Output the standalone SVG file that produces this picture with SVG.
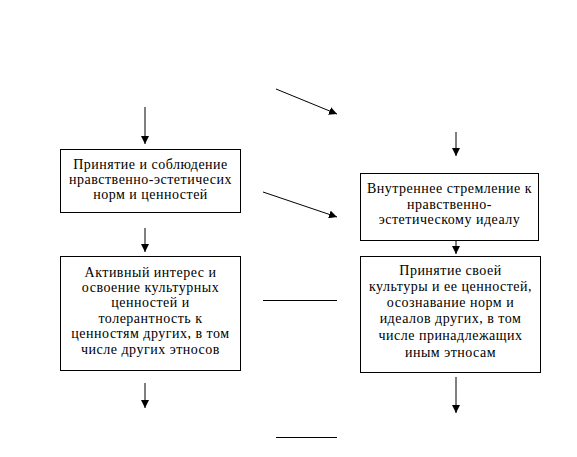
<svg xmlns="http://www.w3.org/2000/svg" width="577" height="457" viewBox="0 0 577 457">
<style>
.box{fill:#fff;stroke:#000;stroke-width:1}
.t{font-family:'Liberation Serif','Times New Roman',serif;font-size:14px;letter-spacing:0.5px;fill:#000;text-anchor:middle}
.ln{stroke:#000;stroke-width:1;fill:none}
</style>
<defs>
<marker id="ah" markerWidth="8" markerHeight="8" refX="8" refY="4" orient="auto" markerUnits="userSpaceOnUse">
<path d="M0,0 L8,4 L0,8 Z" fill="#000"/>
</marker>
</defs>
<rect width="577" height="457" fill="#fff"/>
<g id="connectors">
<line class="ln" x1="145" y1="107" x2="145" y2="144" marker-end="url(#ah)"/>
<line class="ln" x1="276" y1="89" x2="337" y2="114" marker-end="url(#ah)"/>
<line class="ln" x1="263" y1="192" x2="337" y2="217" marker-end="url(#ah)"/>
<line class="ln" x1="456" y1="132" x2="456" y2="156" marker-end="url(#ah)"/>
<line class="ln" x1="456" y1="241" x2="456" y2="254" marker-end="url(#ah)"/>
<line class="ln" x1="145" y1="228" x2="145" y2="252" marker-end="url(#ah)"/>
<line class="ln" x1="145" y1="383" x2="145" y2="408" marker-end="url(#ah)"/>
<line class="ln" x1="456" y1="377" x2="456" y2="413" marker-end="url(#ah)"/>
<line class="ln" x1="263" y1="300.5" x2="337" y2="300.5"/>
<line class="ln" x1="276" y1="437.5" x2="337" y2="437.5"/>
</g>
<g id="node1">
<rect class="box" x="60.5" y="149.5" width="180" height="63"/>
<text class="t" x="150.5" y="169">Принятие и соблюдение</text>
<text class="t" x="150.5" y="184">нравственно-эстетичесих</text>
<text class="t" x="150.5" y="199">норм и ценностей</text>
</g>
<g id="node2">
<rect class="box" x="360.5" y="173.5" width="178" height="67"/>
<text class="t" x="449.5" y="193">Внутреннее стремление к</text>
<text class="t" x="449.5" y="208.5">нравственно-</text>
<text class="t" x="449.5" y="224">эстетическому идеалу</text>
</g>
<g id="node3">
<rect class="box" x="60.5" y="256.5" width="180" height="114"/>
<text class="t" x="150.5" y="277">Активный интерес и</text>
<text class="t" x="150.5" y="292">освоение культурных</text>
<text class="t" x="150.5" y="307">ценностей и</text>
<text class="t" x="150.5" y="322.5">толерантность к</text>
<text class="t" x="150.5" y="338">ценностям других, в том</text>
<text class="t" x="150.5" y="353.5">числе других этносов</text>
</g>
<g id="node4">
<rect class="box" x="360.5" y="256.5" width="180" height="116"/>
<text class="t" x="450.5" y="275">Принятие своей</text>
<text class="t" x="450.5" y="291">культуры и ее ценностей,</text>
<text class="t" x="450.5" y="307">осознавание норм и</text>
<text class="t" x="450.5" y="323">идеалов других, в том</text>
<text class="t" x="450.5" y="340">числе принадлежащих</text>
<text class="t" x="450.5" y="357">иным этносам</text>
</g>
</svg>
